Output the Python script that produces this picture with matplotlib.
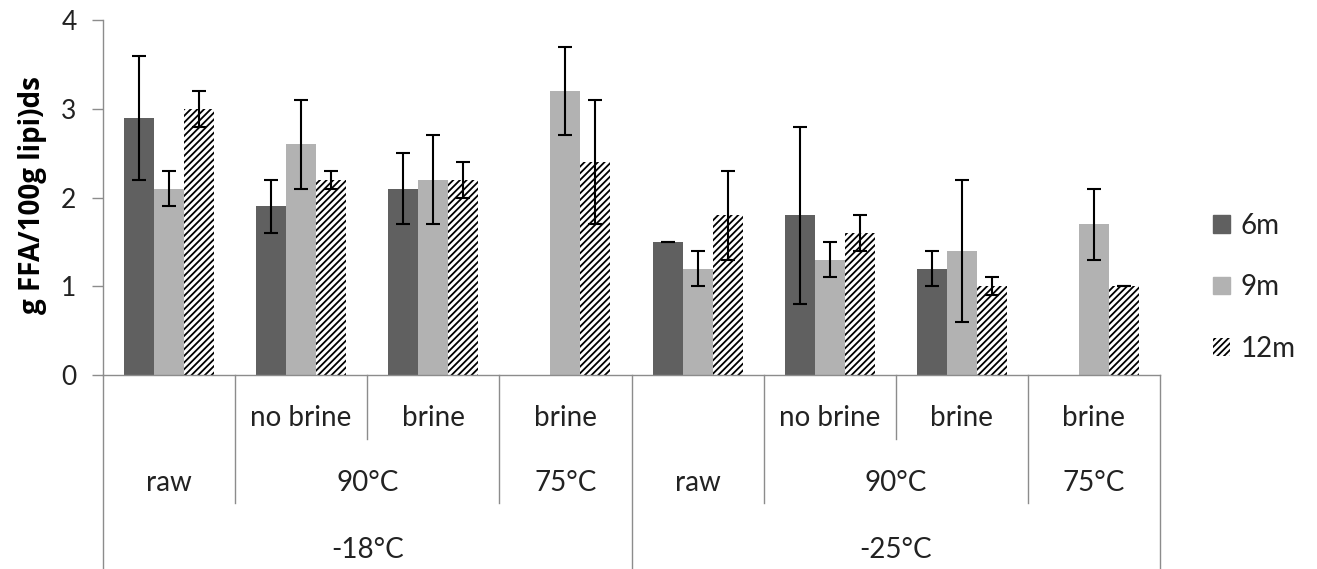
import numpy as np
import matplotlib
matplotlib.use("Agg")
import matplotlib.pyplot as plt
from matplotlib.patches import Patch
import matplotlib.transforms as mtransforms

plt.rcParams['font.family'] = ['Lato', 'DejaVu Sans']
plt.rcParams['hatch.linewidth'] = 1.3

# data (g FFA / 100 g lipids), nan = no bar
level1 = ["", "no brine", "brine", "brine", "", "no brine", "brine", "brine"]
level2 = [("raw", 1), ("90°C", 2), ("75°C", 1), ("raw", 1), ("90°C", 2), ("75°C", 1)]
level3 = [("-18°C", 4), ("-25°C", 4)]

series = ["6m", "9m", "12m"]
val_6m = [2.9, 1.9, 2.1, np.nan, 1.5, 1.8, 1.2, np.nan]
val_9m = [2.1, 2.6, 2.2, 3.2, 1.2, 1.3, 1.4, 1.7]
val_12m = [3.0, 2.2, 2.2, 2.4, 1.8, 1.6, 1.0, 1.0]
err_6m = [0.7, 0.3, 0.4, np.nan, 0.0, 1.0, 0.2, np.nan]
err_9m = [0.2, 0.5, 0.5, 0.5, 0.2, 0.2, 0.8, 0.4]
err_12m = [0.2, 0.1, 0.2, 0.7, 0.5, 0.2, 0.1, 0.0]

W, H = 1317, 569
fig = plt.figure(figsize=(W / 100, H / 100), dpi=100)
x0, x1, y0, y1 = 103, 1160, 375, 20
ax = fig.add_axes([x0 / W, 1 - y0 / H, (x1 - x0) / W, (y0 - y1) / H])

n = len(level1)
x = np.arange(n) + 0.5
bw = 0.227
styles = [
    dict(color="#606060"),
    dict(color="#b2b2b2"),
    dict(facecolor="white", edgecolor="black", hatch="/////", linewidth=0),
]
vals = [val_6m, val_9m, val_12m]
errs = [err_6m, err_9m, err_12m]
handles = []
for i, (v, e, st) in enumerate(zip(vals, errs, styles)):
    xs = x + (i - 1) * bw
    ax.bar(xs, v, bw, zorder=2, **st)
    ax.errorbar(xs, v, yerr=e, fmt="none", ecolor="black", elinewidth=1.5,
                capsize=4.8, capthick=1.5, zorder=3)
    handles.append(Patch(label=series[i], **st))

ax.set_xlim(0, n)
ax.set_ylim(0, 4)
ax.set_yticks([0, 1, 2, 3, 4])
ax.set_xticks([])
ax.tick_params(axis="y", direction="out", length=8, width=1, color="#8c8c8c",
               labelsize=19, labelcolor="#222222", pad=11)
for s in ["top", "right"]:
    ax.spines[s].set_visible(False)
for s in ["left", "bottom"]:
    ax.spines[s].set_color("#8c8c8c")
    ax.spines[s].set_linewidth(1)

# multi level category axis
trans = mtransforms.blended_transform_factory(ax.transData, ax.transAxes)
row_y = [-0.121, -0.304, -0.493]
depth = [-0.180, -0.361, -0.546]
b2 = np.cumsum([0] + [s for _, s in level2])
b3 = np.cumsum([0] + [s for _, s in level3])
for b in range(n + 1):
    if b in b3:
        d = depth[2]
    elif b in b2:
        d = depth[1]
    else:
        d = depth[0]
    ax.plot([b, b], [0, d], transform=trans, color="#8c8c8c", lw=1, clip_on=False)
for i, lab in enumerate(level1):
    if lab:
        ax.text(i + 0.5, row_y[0], lab, transform=trans, ha="center", va="center",
                fontsize=20, color="#222222")
for (lab, s), start in zip(level2, b2[:-1]):
    ax.text(start + s / 2, row_y[1], lab, transform=trans, ha="center", va="center",
            fontsize=20, color="#222222")
for (lab, s), start in zip(level3, b3[:-1]):
    ax.text(start + s / 2, row_y[2], lab, transform=trans, ha="center", va="center",
            fontsize=20, color="#222222")

fig.text(33 / W, 1 - 195 / H, "g FFA/100g lipi)ds", rotation=90, ha="center",
         va="center", fontsize=20, fontweight="bold", color="black",
         family=["Open Sans", "DejaVu Sans"])

ax.legend(handles=handles, loc="upper left", bbox_to_anchor=(1188 / W, 1 - 188 / H),
          bbox_transform=fig.transFigure, frameon=False, fontsize=20,
          handlelength=0.6, handleheight=0.6, handletextpad=0.4, labelspacing=1.27,
          labelcolor="#222222")

fig.savefig("out.png", dpi=100, facecolor="white")
